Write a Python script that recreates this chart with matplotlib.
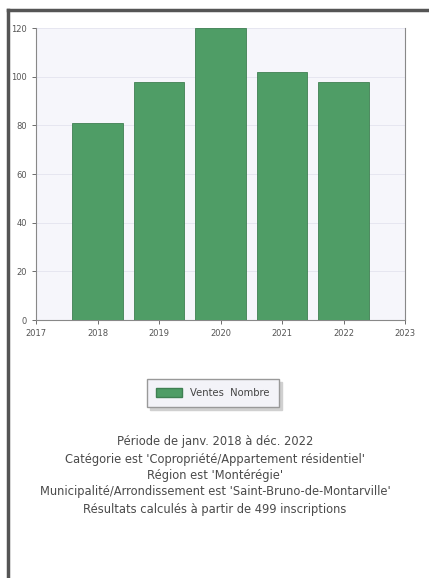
import numpy as np
import matplotlib.pyplot as plt
from matplotlib.patches import Rectangle
from matplotlib.lines import Line2D

years = [2018, 2019, 2020, 2021, 2022]
ventes = [81, 98, 120, 102, 98]
xticks = [2017, 2018, 2019, 2020, 2021, 2022, 2023]
yticks = [0, 20, 40, 60, 80, 100, 120]
legend_label = 'Ventes  Nombre'
notes = [
    "Période de janv. 2018 à déc. 2022",
    "Catégorie est 'Copropriété/Appartement résidentiel'",
    "Région est 'Montérégie'",
    "Municipalité/Arrondissement est 'Saint-Bruno-de-Montarville'",
]
footer = "Résultats calculés à partir de 499 inscriptions"

fig = plt.figure(figsize=(4.29, 5.78), dpi=100)
fig.patch.set_facecolor('white')

# outer frame (left + top)
fig.add_artist(Line2D([8/429, 8/429], [0, 1 - 10/578], color='#555555', lw=2.5))
fig.add_artist(Line2D([8/429, 1], [1 - 10/578, 1 - 10/578], color='#555555', lw=2.5))

ax = fig.add_axes([36/429, 1 - 320/578, 369/429, 292/578])
ax.set_facecolor('#f6f6fb')
ax.bar(years, ventes, width=0.82, color='#4f9d66', edgecolor='#3f8052', linewidth=0.6, zorder=3)
ax.set_xlim(2017, 2023)
ax.set_ylim(0, 120)
ax.set_xticks(xticks)
ax.set_yticks(yticks)
ax.grid(axis='y', color='#e4e4ee', lw=0.6, zorder=0)
ax.tick_params(labelsize=6, colors='#555555', length=3, width=0.6)
ax.spines['top'].set_visible(False)
for s in ['left', 'bottom', 'right']:
    ax.spines[s].set_color('#888888')
    ax.spines[s].set_linewidth(0.8)

handle = Rectangle((0, 0), 1, 1, facecolor='#4f9d66', edgecolor='#3f8052')
leg = fig.legend([handle], [legend_label], loc='center', bbox_to_anchor=(213/429, 1 - 393/578),
                 fontsize=7.2, frameon=True, fancybox=False,
                 shadow={'color': '#d0d0d0', 'alpha': 1, 'ox': 2, 'oy': -2},
                 handlelength=2.6, handleheight=0.9, borderpad=0.9, labelcolor='#444444')
leg.get_frame().set_edgecolor('#999999')
leg.get_frame().set_facecolor('#f3f3f8')

ys = [442, 459, 475, 491]
for t, y in zip(notes, ys):
    fig.text(215/429, 1 - y/578, t, ha='center', va='center', fontsize=8.3, color='#4a4a4a')
fig.text(215/429, 1 - 509/578, footer, ha='center', va='center', fontsize=8.3, color='#4a4a4a')

fig.savefig('out.png', dpi=100)
